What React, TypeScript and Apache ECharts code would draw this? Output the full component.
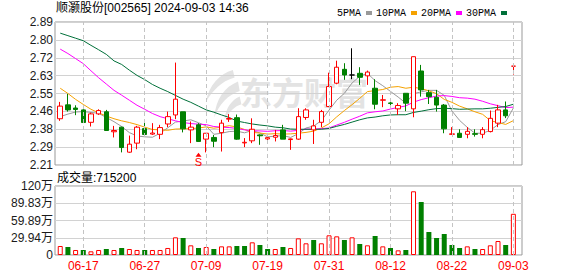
import React, { useEffect, useRef } from "react";
import * as echarts from "echarts";

const dates = [
  "06-12", "06-13", "06-14", "06-17", "06-18", "06-19", "06-20", "06-21", "06-24", "06-25",
  "06-26", "06-27", "06-28", "07-01", "07-02", "07-03", "07-04", "07-05", "07-08", "07-09",
  "07-10", "07-11", "07-12", "07-15", "07-16", "07-17", "07-18", "07-19", "07-22", "07-23",
  "07-24", "07-25", "07-26", "07-29", "07-30", "07-31", "08-01", "08-02", "08-05", "08-06",
  "08-07", "08-08", "08-09", "08-12", "08-13", "08-14", "08-15", "08-16", "08-19", "08-20",
  "08-21", "08-22", "08-23", "08-26", "08-27", "08-28", "08-29", "08-30", "09-02", "09-03",
];

const opens = [
  2.43, 2.496, 2.481, 2.472, 2.413, 2.453, 2.463, 2.368, 2.39, 2.271,
  2.314, 2.383, 2.357, 2.356, 2.405, 2.448, 2.463, 2.377, 2.401, 2.333,
  2.341, 2.364, 2.428, 2.435, 2.315, 2.325, 2.353, 2.334, 2.342, 2.377,
  2.331, 2.333, 2.436, 2.377, 2.413, 2.488, 2.599, 2.665, 2.638, 2.646,
  2.634, 2.575, 2.518, 2.505, 2.477, 2.551, 2.477, 2.657, 2.554, 2.532,
  2.495, 2.356, 2.361, 2.356, 2.359, 2.356, 2.369, 2.409, 2.472, 2.68,
];
const closes = [
  2.49, 2.472, 2.474, 2.412, 2.453, 2.469, 2.374, 2.374, 2.293, 2.309,
  2.39, 2.355, 2.362, 2.388, 2.44, 2.523, 2.382, 2.39, 2.322, 2.361,
  2.323, 2.409, 2.431, 2.333, 2.318, 2.38, 2.349, 2.34, 2.35, 2.333,
  2.334, 2.44, 2.472, 2.396, 2.464, 2.583, 2.675, 2.638, 2.638, 2.627,
  2.652, 2.499, 2.52, 2.503, 2.493, 2.504, 2.725, 2.567, 2.535, 2.495,
  2.382, 2.358, 2.341, 2.37, 2.356, 2.378, 2.432, 2.472, 2.444, 2.68,
];
const lows = [
  2.42, 2.464, 2.447, 2.41, 2.393, 2.448, 2.374, 2.341, 2.27, 2.268,
  2.285, 2.355, 2.353, 2.333, 2.39, 2.428, 2.365, 2.314, 2.32, 2.27,
  2.295, 2.274, 2.415, 2.33, 2.295, 2.314, 2.306, 2.314, 2.322, 2.333,
  2.282, 2.33, 2.425, 2.31, 2.39, 2.485, 2.594, 2.615, 2.618, 2.591,
  2.591, 2.475, 2.485, 2.485, 2.448, 2.466, 2.437, 2.535, 2.5, 2.464,
  2.361, 2.353, 2.34, 2.337, 2.345, 2.337, 2.365, 2.39, 2.433, 2.64,
];
const highs = [
  2.51, 2.548, 2.494, 2.475, 2.459, 2.475, 2.472, 2.396, 2.392, 2.35,
  2.396, 2.424, 2.409, 2.401, 2.464, 2.697, 2.463, 2.417, 2.409, 2.361,
  2.353, 2.425, 2.452, 2.45, 2.338, 2.432, 2.356, 2.356, 2.377, 2.401,
  2.336, 2.48, 2.48, 2.425, 2.472, 2.649, 2.706, 2.694, 2.765, 2.675,
  2.659, 2.618, 2.543, 2.523, 2.504, 2.551, 2.725, 2.686, 2.567, 2.567,
  2.5, 2.39, 2.38, 2.39, 2.38, 2.39, 2.469, 2.496, 2.512, 2.68,
];

const ma5 = [
  2.44, 2.452, 2.462, 2.464, 2.46, 2.456, 2.436, 2.416, 2.393, 2.364,
  2.348, 2.344, 2.342, 2.361, 2.387, 2.414, 2.419, 2.425, 2.411, 2.396,
  2.356, 2.361, 2.369, 2.371, 2.363, 2.374, 2.362, 2.344, 2.347, 2.35,
  2.341, 2.359, 2.386, 2.395, 2.421, 2.471, 2.518, 2.551, 2.6, 2.632,
  2.646, 2.611, 2.587, 2.56, 2.533, 2.504, 2.549, 2.558, 2.565, 2.565,
  2.541, 2.467, 2.422, 2.389, 2.361, 2.361, 2.375, 2.402, 2.416, 2.481,
];
const ma10 = [
  2.575, 2.55, 2.522, 2.498, 2.475, 2.458, 2.443, 2.43, 2.42, 2.412,
  2.402, 2.39, 2.379, 2.377, 2.375, 2.381, 2.382, 2.383, 2.386, 2.391,
  2.385, 2.39, 2.397, 2.391, 2.379, 2.365, 2.362, 2.357, 2.359, 2.357,
  2.358, 2.361, 2.365, 2.371, 2.386, 2.406, 2.439, 2.469, 2.497, 2.527,
  2.559, 2.564, 2.569, 2.58, 2.583, 2.575, 2.58, 2.573, 2.563, 2.549,
  2.522, 2.508, 2.49, 2.477, 2.463, 2.451, 2.421, 2.412, 2.403, 2.421,
];
const ma20 = [
  2.761, 2.74, 2.716, 2.692, 2.658, 2.625, 2.595, 2.565, 2.542, 2.518,
  2.494, 2.475, 2.455, 2.44, 2.43, 2.42, 2.412, 2.407, 2.404, 2.402,
  2.393, 2.39, 2.388, 2.384, 2.377, 2.373, 2.372, 2.37, 2.373, 2.374,
  2.371, 2.375, 2.381, 2.381, 2.383, 2.386, 2.4, 2.413, 2.428, 2.442,
  2.458, 2.463, 2.467, 2.476, 2.484, 2.491, 2.509, 2.521, 2.53, 2.538,
  2.54, 2.536, 2.53, 2.528, 2.523, 2.513, 2.501, 2.492, 2.483, 2.485,
];
const ma30 = [
  2.837, 2.825, 2.813, 2.801, 2.779, 2.758, 2.736, 2.705, 2.688, 2.661,
  2.636, 2.616, 2.593, 2.575, 2.559, 2.541, 2.523, 2.508, 2.49, 2.472,
  2.461, 2.448, 2.436, 2.419, 2.412, 2.405, 2.4, 2.396, 2.39, 2.387,
  2.381, 2.38, 2.38, 2.38, 2.38, 2.384, 2.394, 2.403, 2.414, 2.425,
  2.434, 2.438, 2.444, 2.448, 2.449, 2.449, 2.46, 2.466, 2.473, 2.478,
  2.48, 2.478, 2.475, 2.476, 2.477, 2.477, 2.48, 2.484, 2.488, 2.499,
];

// volume in 万 (10k shares)
const volumes = [
  15.6, 13.9, 8.7, 8.7, 6.4, 8.7, 10.4, 8.7, 12.2, 10.4,
  8.7, 8.7, 8.7, 8.7, 12.2, 30.7, 29.5, 16.8, 12.2, 13.9,
  10.4, 15.0, 15.0, 15.6, 15.6, 22.0, 17.4, 10.4, 10.4, 13.9,
  12.2, 28.9, 20.3, 26.0, 20.3, 34.2, 32.4, 26.0, 30.7, 19.1,
  16.8, 33.0, 15.0, 12.2, 8.1, 8.7, 110.6, 92.0, 39.9, 29.5,
  36.5, 17.4, 12.2, 15.0, 10.4, 10.4, 16.8, 24.3, 17.4, 71.52,
];
// 1 = up (red hollow), -1 = down (green solid)
const volumeDirs = [
  1, -1, 1, -1, 1, 1, -1, 1, -1, 1,
  1, -1, 1, 1, 1, 1, -1, 1, -1, 1,
  -1, 1, 1, -1, -1, 1, -1, -1, 1, -1,
  1, 1, 1, -1, 1, 1, 1, -1, 1, -1,
  1, -1, 1, -1, 1, -1, 1, -1, -1, -1,
  -1, -1, -1, 1, -1, 1, 1, 1, -1, 1,
];

const priceTicks = ["2.21", "2.29", "2.38", "2.46", "2.55", "2.63", "2.72", "2.80", "2.89"];
const priceMin = 2.21;
const priceMax = 2.89;
const volumeTicks = ["0", "29.94万", "59.89万", "89.83万", "120万"];
const volumeMax = 119.77;
const xTickLabels = ["06-17", "06-27", "07-09", "07-19", "07-31", "08-12", "08-22", "09-03"];
const maNames = ["5PMA", "10PMA", "20PMA", "30PMA"];
const signalIdx = 18;
const signalText = "S";
const stockTitle = "顺灏股份[002565] 2024-09-03 14:36";
const volumeTitle = "成交量:715200";
const watermarkText = "东方财富";

const UP = "#ff0000";
const DOWN = "#008000";
const MA_COLORS = ["#999999", "#f5a200", "#ff00ff", "#00703a"];
const FONT = '"Liberation Sans", "Noto Sans CJK SC", sans-serif';

const LOGO_D =
  "M34 0 C18 4 6 16 2 34 C10 22 20 12 36 8 Z M40 12 C24 18 14 30 12 50 C18 36 28 26 42 22 Z M42 28 C32 32 26 40 24 52 C30 44 36 38 44 36 Z";

let logoRegistered = false;

export default function App() {
  const ref = useRef<HTMLDivElement>(null);

  useEffect(() => {
    if (!ref.current) return;
    if (!logoRegistered) {
      echarts.graphic.registerShape("dcLogo", echarts.graphic.extendPath(LOGO_D, {}) as any);
      logoRegistered = true;
    }
    const chart = echarts.init(ref.current, undefined, { renderer: "svg" });

    const candleData = dates.map((_, i) => {
      const flat = opens[i] === closes[i] && i > 0 && closes[i - 1] === closes[i];
      const item: any = { value: [opens[i], closes[i], lows[i], highs[i]] };
      if (flat) {
        item.itemStyle = { color: "#000", color0: "#000", borderColor: "#000", borderColor0: "#000" };
      }
      return item;
    });

    const volData = volumes.map((v, i) => ({
      value: v,
      itemStyle:
        volumeDirs[i] > 0
          ? { color: "#ffffff", borderColor: UP, borderWidth: 1 }
          : { color: DOWN, borderColor: DOWN, borderWidth: 0 },
    }));

    const maSeries = [ma5, ma10, ma20, ma30].map((arr, k) => ({
      name: maNames[k],
      type: "line",
      xAxisIndex: 1,
      yAxisIndex: 1,
      data: arr,
      showSymbol: false,
      symbol: "none",
      color: MA_COLORS[k],
      lineStyle: { color: MA_COLORS[k], width: 1 },
      z: 3,
      silent: true,
    }));

    const dashLine = {
      silent: true,
      symbol: ["none", "none"],
      label: { show: false },
      lineStyle: { type: [4, 3], color: "#c4c4c4", width: 1 },
      data: xTickLabels.map((d) => ({ xAxis: d })),
    };

    const option: any = {
      animation: false,
      textStyle: { fontFamily: FONT },
      legend: {
        data: maNames,
        right: 66,
        top: 3,
        align: "right",
        icon: "rect",
        itemWidth: 6,
        itemHeight: 4,
        itemGap: 4,
        textStyle: { fontFamily: '"Liberation Mono", monospace', fontSize: 10, color: "#000" },
        selectedMode: false,
      },
      grid: [
        { left: 55, top: 22, width: 467, height: 143, show: true, borderColor: "#999", borderWidth: 1 },
        { left: 56.4, top: 22, width: 460.8, height: 143 },
        { left: 55, top: 186, width: 467, height: 69, show: true, borderColor: "#999", borderWidth: 1 },
        { left: 56.4, top: 186, width: 460.8, height: 69 },
      ],
      xAxis: [
        { gridIndex: 0, type: "value", min: 0, max: 1, show: false },
        {
          gridIndex: 1,
          type: "category",
          data: dates,
          boundaryGap: true,
          axisLine: { show: false },
          axisTick: { show: false },
          axisLabel: { show: false },
          splitLine: { show: false },
        },
        { gridIndex: 2, type: "value", min: 0, max: 1, show: false },
        {
          gridIndex: 3,
          type: "category",
          data: dates,
          boundaryGap: true,
          axisLine: { show: false },
          axisTick: { show: false },
          splitLine: { show: false },
          axisLabel: {
            show: true,
            interval: (_i: number, v: string) => xTickLabels.indexOf(v) >= 0,
            color: UP,
            fontSize: 12,
            margin: 5,
            fontFamily: FONT,
          },
        },
      ],
      yAxis: [
        {
          gridIndex: 0,
          type: "value",
          min: 0,
          max: priceTicks.length - 1,
          interval: 1,
          axisLine: { show: false },
          axisTick: { show: false },
          axisLabel: {
            formatter: (v: number) => priceTicks[Math.round(v)] ?? "",
            color: "#1a1a1a",
            fontSize: 12,
            margin: 2,
            fontFamily: FONT,
          },
          splitLine: { lineStyle: { color: "#d2d2d2", width: 1 } },
        },
        { gridIndex: 1, type: "value", min: priceMin, max: priceMax, show: false, splitLine: { show: false } },
        {
          gridIndex: 2,
          type: "value",
          min: 0,
          max: volumeTicks.length - 1,
          interval: 1,
          axisLine: { show: false },
          axisTick: { show: false },
          axisLabel: {
            formatter: (v: number) => volumeTicks[Math.round(v)] ?? "",
            color: "#1a1a1a",
            fontSize: 12,
            margin: 2,
            fontFamily: FONT,
          },
          splitLine: { lineStyle: { color: "#d2d2d2", width: 1 } },
        },
        { gridIndex: 3, type: "value", min: 0, max: volumeMax, show: false, splitLine: { show: false } },
      ],
      graphic: [
        {
          type: "text",
          left: 56,
          top: 2,
          style: { text: stockTitle, font: `12px ${FONT}`, fill: "#000" },
        },
        {
          type: "text",
          left: 57,
          top: 171.5,
          style: { text: volumeTitle, font: `12px ${FONT}`, fill: "#000" },
        },
        {
          type: "text",
          left: 240,
          top: 75,
          silent: true,
          style: { text: watermarkText, font: 'bold 32px "Noto Sans CJK SC"', fill: "#e3e3e3" },
        },
        {
          type: "dcLogo",
          x: 204,
          y: 70,
          scaleX: 0.85,
          scaleY: 0.95,
          silent: true,
          style: { fill: "#e3e3e3" },
        },
      ],
      series: [
        {
          type: "line",
          xAxisIndex: 1,
          yAxisIndex: 1,
          data: [],
          z: 1,
          silent: true,
          markLine: dashLine,
        },
        ...maSeries,
        {
          type: "candlestick",
          name: "K",
          xAxisIndex: 1,
          yAxisIndex: 1,
          data: candleData,
          barWidth: 5,
          z: 4,
          itemStyle: {
            color: "#ffffff",
            color0: DOWN,
            borderColor: UP,
            borderColor0: DOWN,
            borderWidth: 1,
          },
          markPoint: {
            symbol: "triangle",
            symbolSize: [6, 4],
            symbolOffset: [0, 13],
            itemStyle: { color: UP },
            label: {
              show: true,
              formatter: signalText,
              position: "bottom",
              distance: 0,
              color: UP,
              fontSize: 11,
              fontFamily: FONT,
            },
            data: [{ coord: [dates[signalIdx], lows[signalIdx]] }],
          },
        },
        {
          type: "line",
          xAxisIndex: 3,
          yAxisIndex: 3,
          data: [],
          z: 1,
          silent: true,
          markLine: dashLine,
        },
        {
          type: "bar",
          name: "VOL",
          xAxisIndex: 3,
          yAxisIndex: 3,
          data: volData,
          barWidth: 5,
          z: 4,
        },
      ],
    };

    chart.setOption(option);
    return () => chart.dispose();
  }, []);

  return (
    <div
      ref={ref}
      style={{ position: "absolute", left: 0, top: 0, width: 578, height: 276, background: "#fff" }}
    />
  );
}
